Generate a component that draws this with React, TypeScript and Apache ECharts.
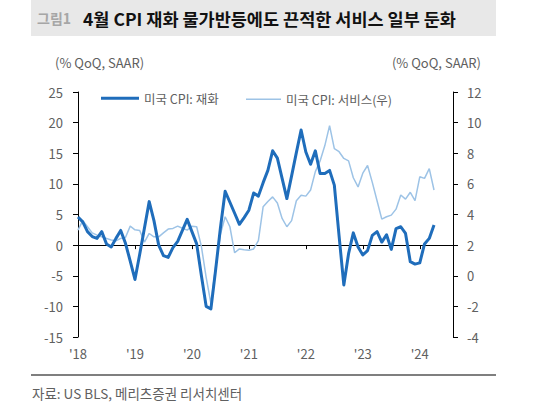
import React, { useEffect, useRef } from "react";
import * as echarts from "echarts";

const START_YEAR = 2018;
const MONTH_COUNT = 80; // Jan 2018 .. Aug 2024 (axis extent)
const months: string[] = [];
for (let i = 0; i < MONTH_COUNT; i++) {
  const y = START_YEAR + Math.floor(i / 12);
  const m = (i % 12) + 1;
  months.push(`${y}-${m < 10 ? "0" + m : m}`);
}

const seriesNames = ["미국 CPI: 재화", "미국 CPI: 서비스(우)"];

// 미국 CPI: 재화 (left axis, % QoQ SAAR), Jan 2018 .. Apr 2024
const goods = [
  4.6, 3.8, 2.2, 1.4, 1.1, 2.2, 0.2, -0.3, 1.1, 2.4, 0.3, -2.6,
  -5.6, -1.5, 2.8, 7.1, 4.0, 0.0, -1.7, -2.0, -0.4, 0.6, 2.4, 4.2,
  2.2, 0.2, -5.0, -10.0, -10.4, -4.0, 2.8, 8.8, 7.0, 5.2, 3.4, 4.5,
  5.7, 8.5, 8.0, 10.2, 12.2, 15.4, 14.2, 10.9, 7.6, 11.3, 15.1, 18.8,
  15.2, 13.2, 15.4, 11.7, 11.7, 12.2, 9.8, 1.5, -6.5, -1.4, 2.0, -0.3,
  -1.6, -0.9, 1.6, 2.2, 0.5, 1.7, -0.7, 2.7, 3.0, 1.9, -2.7, -3.1,
  -2.9, 0.2, 1.1, 3.3,
];

// 미국 CPI: 서비스 (right axis, % QoQ SAAR), Jan 2018 .. Apr 2024
const services = [
  2.98, 3.6, 3.2, 2.8, 2.65, 2.54, 2.44, 2.33, 2.28, 2.44, 2.5, 3.24,
  3.0, 2.96, 2.2, 2.76, 2.54, 2.54, 2.8, 3.05, 3.09, 3.24, 3.1, 2.98,
  3.24, 3.2, 1.9, -0.1, -1.8, 0.6, 2.7, 3.85, 3.2, 1.5, 1.75, 1.7,
  1.67, 1.75, 2.3, 4.5, 4.85, 5.15, 4.75, 3.74, 3.2, 3.6, 4.9, 5.25,
  5.2, 5.6, 6.8, 7.5, 8.5, 9.8, 8.3, 8.1, 7.66, 7.5, 6.4, 5.8,
  6.7, 7.2, 6.1, 4.9, 3.7, 3.85, 3.96, 4.35, 5.27, 5.0, 5.45, 4.9,
  6.46, 6.36, 7.0, 5.6,
];

const FONT = "'Noto Sans CJK KR', 'Noto Sans', sans-serif";
const GOODS_COLOR = "#1f6dbb";
const SERVICES_COLOR = "#9dc3e6";
const LABEL_COLOR = "#606060";

export default function App() {
  const ref = useRef<HTMLDivElement>(null);

  useEffect(() => {
    document.body.style.margin = "0";
    if (!ref.current) return;
    const chart = echarts.init(ref.current, undefined, { renderer: "svg" });
    const yearTick = (idx: number) => idx % 12 === 0;
    const legendText = { color: LABEL_COLOR, fontSize: 12.5, fontFamily: FONT };
    chart.setOption({
      animation: false,
      textStyle: { fontFamily: FONT },
      grid: { left: 78, right: 87, top: 92, bottom: 70, containLabel: false },
      legend: [
        {
          left: 96,
          top: 87,
          icon: "rect",
          itemWidth: 38,
          itemHeight: 3,
          itemGap: 20,
          textStyle: legendText,
          data: [seriesNames[0]],
        },
        {
          left: 241,
          top: 88,
          icon: "rect",
          itemWidth: 35,
          itemHeight: 1.5,
          textStyle: legendText,
          data: [seriesNames[1]],
        },
      ],
      xAxis: [
        {
          type: "category",
          data: months,
          boundaryGap: false,
          position: "bottom",
          axisLine: { show: false, onZero: false },
          axisTick: { show: false },
          splitLine: { show: false },
          axisLabel: {
            interval: (idx: number) => yearTick(idx),
            formatter: (v: string) => "'" + v.slice(2, 4),
            color: LABEL_COLOR,
            fontSize: 13,
            margin: 10,
            fontFamily: FONT,
          },
        },
        {
          type: "category",
          data: months,
          boundaryGap: false,
          position: "bottom",
          axisLine: {
            show: true,
            onZero: true,
            onZeroAxisIndex: 0,
            lineStyle: { color: "#000", width: 1 },
          },
          axisTick: {
            show: true,
            interval: (idx: number) => yearTick(idx),
            length: 4,
            lineStyle: { color: "#000" },
          },
          axisLabel: { show: false },
          splitLine: { show: false },
        },
      ],
      yAxis: [
        {
          type: "value",
          min: -15,
          max: 25,
          interval: 5,
          position: "left",
          axisLine: { show: true, lineStyle: { color: "#000", width: 1 } },
          axisTick: { show: true, length: 5, lineStyle: { color: "#000" } },
          splitLine: { show: false },
          axisLabel: { color: LABEL_COLOR, fontSize: 13, margin: 15, fontFamily: FONT },
        },
        {
          type: "value",
          min: -4,
          max: 12,
          interval: 2,
          position: "right",
          axisLine: { show: true, lineStyle: { color: "#000", width: 1 } },
          axisTick: { show: true, length: 5, lineStyle: { color: "#000" } },
          splitLine: { show: false },
          axisLabel: { color: LABEL_COLOR, fontSize: 13, margin: 14, fontFamily: FONT },
        },
      ],
      series: [
        {
          name: seriesNames[1],
          type: "line",
          data: services,
          xAxisIndex: 0,
          yAxisIndex: 1,
          symbol: "none",
          lineStyle: { color: SERVICES_COLOR, width: 1.5 },
          itemStyle: { color: SERVICES_COLOR },
          z: 2,
        },
        {
          name: seriesNames[0],
          type: "line",
          data: goods,
          xAxisIndex: 0,
          yAxisIndex: 0,
          symbol: "none",
          lineStyle: { color: GOODS_COLOR, width: 3, join: "round" },
          itemStyle: { color: GOODS_COLOR },
          z: 3,
        },
      ],
      graphic: [
        {
          type: "rect",
          shape: { x: 31, y: 0, width: 465, height: 36 },
          style: { fill: "#e8e8e8" },
          silent: true,
        },
        {
          type: "text",
          x: 37,
          y: 18,
          style: {
            text: "그림1",
            fill: "#a6a6a6",
            font: `bold 14px ${FONT}`,
            verticalAlign: "middle",
          },
        },
        {
          type: "text",
          x: 83,
          y: 18,
          style: {
            text: "4월 CPI 재화 물가반등에도 끈적한 서비스 일부 둔화",
            fill: "#111",
            font: `bold 17.5px ${FONT}`,
            verticalAlign: "middle",
          },
        },
        {
          type: "text",
          x: 55,
          y: 62,
          style: {
            text: "(% QoQ, SAAR)",
            fill: LABEL_COLOR,
            font: `13px ${FONT}`,
            verticalAlign: "middle",
          },
        },
        {
          type: "text",
          x: 481,
          y: 62,
          style: {
            text: "(% QoQ, SAAR)",
            fill: LABEL_COLOR,
            font: `13px ${FONT}`,
            verticalAlign: "middle",
            align: "right",
          },
        },
        {
          type: "line",
          shape: { x1: 31, y1: 375, x2: 496, y2: 375 },
          style: { stroke: "#000", lineWidth: 1.2 },
        },
        {
          type: "text",
          x: 32,
          y: 393,
          style: {
            text: "자료: US BLS, 메리츠증권 리서치센터",
            fill: LABEL_COLOR,
            font: `13.5px ${FONT}`,
            verticalAlign: "middle",
          },
        },
      ],
    });
    return () => chart.dispose();
  }, []);

  return <div ref={ref} style={{ width: 540, height: 407 }} />;
}
